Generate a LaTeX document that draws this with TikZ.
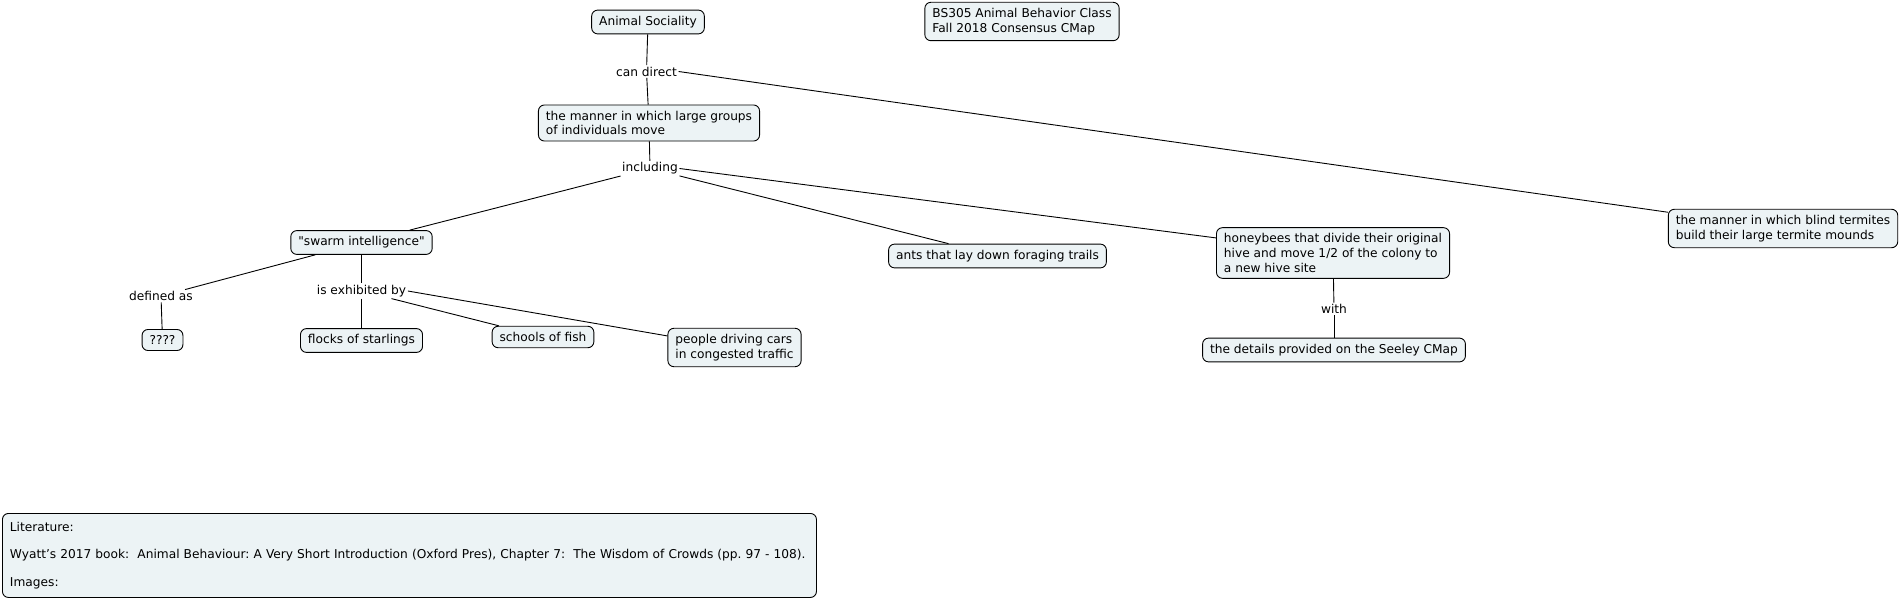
\documentclass[tikz,border=0pt]{standalone}
\usepackage{fontspec}
\setmainfont{DejaVu Sans}
\usetikzlibrary{positioning}
\frenchspacing

\definecolor{conceptfill}{RGB}{236,243,245}

\tikzset{
  concept/.style={draw, fill=conceptfill, rounded corners=6pt, align=left,
    inner xsep=7.5pt, inner ysep=6pt, line width=0.9pt},
  linkphrase/.style={inner sep=1.5pt},
  link/.style={line width=0.9pt}
}

\begin{document}
\begin{tikzpicture}[x=1pt, y=-1pt, font=\fontsize{12.2pt}{14.6pt}\selectfont]

    % Page frame
    \useasboundingbox (0,0) rectangle (1902,601);

    % Concepts
    \node[concept] (sociality) at (648,22) {Animal Sociality};
    \node[concept] (title) at (1022,21.5) {BS305 Animal Behavior Class\\Fall 2018 Consensus CMap};
    \node[concept] (groups) at (649,123) {the manner in which large groups\\of individuals move};
    \node[concept] (swarm) at (361.5,242.5) {\textquotedbl swarm intelligence\textquotedbl};
    \node[concept] (ants) at (997.5,256) {ants that lay down foraging trails};
    \node[concept] (bees) at (1333,253) {honeybees that divide their original\\hive and move 1/2 of the colony to\\a new hive site};
    \node[concept] (termites) at (1783,228.5) {the manner in which blind termites\\build their large termite mounds};
    \node[concept] (unknown) at (162.5,340) {????};
    \node[concept] (starlings) at (361.5,340.5) {flocks of starlings};
    \node[concept] (fish) at (543,337) {schools of fish};
    \node[concept] (drivers) at (734.5,347.5) {people driving cars\\in congested traffic};
    \node[concept] (seeley) at (1334,350) {the details provided on the Seeley CMap};

    % Linking phrases
    \node[linkphrase] (candirect) at (646.5,71.5) {can direct};
    \node[linkphrase] (including) at (650,168.5) {including};
    \node[linkphrase] (definedas) at (161,296) {defined as};
    \node[linkphrase] (exhibited) at (361.5,291) {is exhibited by};
    \node[linkphrase] (with) at (1334,309) {with};

    % Connections
    \draw[link] (sociality) -- (candirect);
    \draw[link] (candirect) -- (groups);
    \draw[link] (candirect.east) -- (termites);
    \draw[link] (groups) -- (including);
    \draw[link] (including) -- (swarm);
    \draw[link] (including) -- (ants);
    \draw[link] (including.east) -- (bees);
    \draw[link] (swarm) -- (definedas);
    \draw[link] (definedas) -- (unknown);
    \draw[link] (swarm) -- (exhibited);
    \draw[link] (exhibited) -- (starlings);
    \draw[link] (exhibited) -- (fish);
    \draw[link] (exhibited.east) -- (drivers);
    \draw[link] (bees) -- (with);
    \draw[link] (with) -- (seeley);

    % Literature note
    \node[concept, anchor=north west, minimum width=814pt, minimum height=84pt,
      text width=799pt] (literature) at (2,513)
      {Literature:\\[13pt]Wyatt’s 2017 book:~ Animal Behaviour: A Very Short Introduction (Oxford Pres), Chapter 7:~ The Wisdom of Crowds (pp. 97 - 108).\\[13pt]Images:};

\end{tikzpicture}
\end{document}
